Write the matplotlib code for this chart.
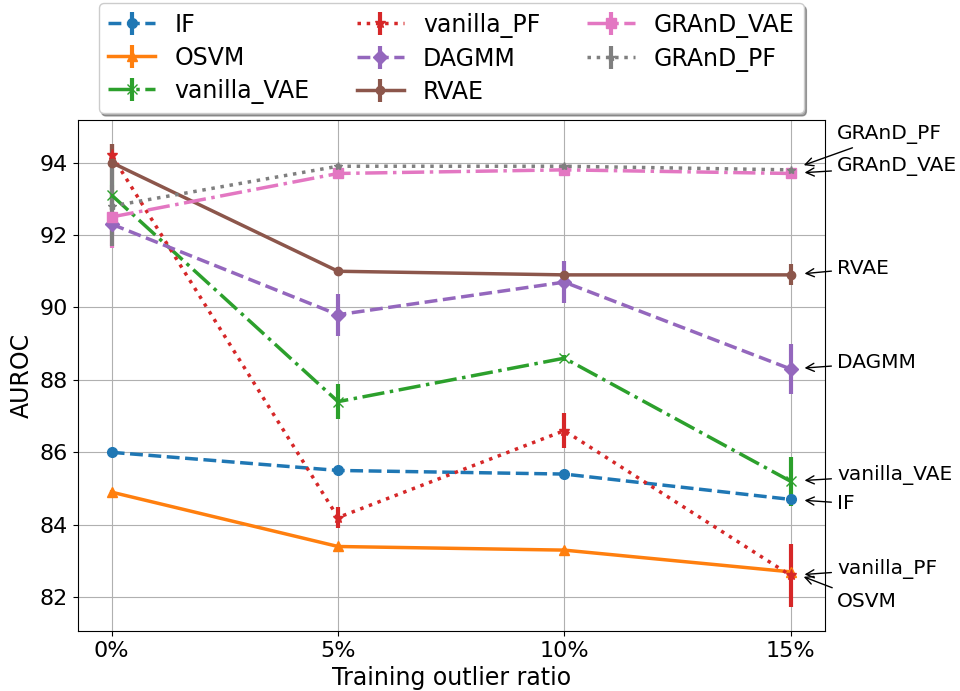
#!/usr/bin/env python3
# coding: utf-8

"""AUROC vs training outlier ratio"""

import numpy as np
import matplotlib
matplotlib.use('Agg')
import matplotlib.pyplot as plt

# Data
ratios = ['0%', '5%', '10%', '15%']
methods = ['IF', 'OSVM', 'vanilla_VAE', 'vanilla_PF', 'DAGMM', 'RVAE',
		   'GRAnD_VAE', 'GRAnD_PF']

if_mean = [86.0, 85.5, 85.4, 84.7]
if_std = [0.05, 0.05, 0.05, 0.1]
osvm_mean = [84.9, 83.4, 83.3, 82.7]
osvm_std = [0.05, 0.05, 0.05, 0.05]
vvae_mean = [93.1, 87.4, 88.6, 85.2]
vvae_std = [0.4, 0.48, 0.08, 0.68]
vpf_mean = [94.2, 84.2, 86.6, 82.6]
vpf_std = [0.3, 0.28, 0.48, 0.88]
dagmm_mean = [92.3, 89.8, 90.7, 88.3]
dagmm_std = [0.3, 0.58, 0.59, 0.69]
rvae_mean = [94.0, 91.0, 90.9, 90.9]
rvae_std = [0.5, 0.05, 0.05, 0.29]
gvae_mean = [92.5, 93.7, 93.8, 93.7]
gvae_std = [0.87, 0.08, 0.08, 0.08]
gpf_mean = [92.8, 93.9, 93.9, 93.8]
gpf_std = [1.1, 0.05, 0.05, 0.05]

means = [if_mean, osvm_mean, vvae_mean, vpf_mean, dagmm_mean, rvae_mean,
		 gvae_mean, gpf_mean]
stds = [if_std, osvm_std, vvae_std, vpf_std, dagmm_std, rvae_std,
		gvae_std, gpf_std]

# style per method
markers = ['o', '^', 'x', '*', 'D', 'o', 's', '*']
msizes = [7, 7, 7, 8, 7, 6, 7, 6]
lstyles = ['--', '-', '-.', ':', '--', '-', '-.', ':']
colors = ['C%d' % i for i in range(8)]

# annotation text offsets (points) relative to last point
ann_dy = [-2.7, -21.0, 4.6, 5.0, 4.5, 4.8, 4.7, 25.4]

fig = plt.figure(figsize=(9.6, 6.91), dpi=100)
ax = fig.add_axes([0.081, 0.087, 0.778, 0.739])

x = np.arange(len(ratios))
for i, m in enumerate(methods):
	ax.errorbar(x, means[i], yerr=stds[i], label=m, color=colors[i],
				marker=markers[i], markersize=msizes[i], linestyle=lstyles[i],
				linewidth=2.5, elinewidth=3)

# labels at the right end
for i, m in enumerate(methods):
	ax.annotate(m, xy=(x[-1], means[i][-1]), xytext=(33.3, ann_dy[i]),
				textcoords='offset points', ha='left', va='center',
				fontsize=14.5,
				arrowprops=dict(arrowstyle='->', color='black', lw=1,
								shrinkA=2, shrinkB=10))

ax.set_xticks(x)
ax.set_xticklabels(ratios)
ax.set_xlim(-0.15, 3.15)
ax.set_ylim(81.07, 95.17)
ax.set_yticks([82, 84, 86, 88, 90, 92, 94])
ax.tick_params(labelsize=16)
ax.grid(True)
ax.set_xlabel('Training outlier ratio', fontsize=17)
ax.set_ylabel('AUROC', fontsize=17)

ax.legend(loc='lower center', bbox_to_anchor=(0.5, 1.0), ncol=3,
		  fontsize=17, shadow=True, borderaxespad=0.3, labelspacing=0.38)

fig.savefig('out.png', dpi=100)
plt.close()
